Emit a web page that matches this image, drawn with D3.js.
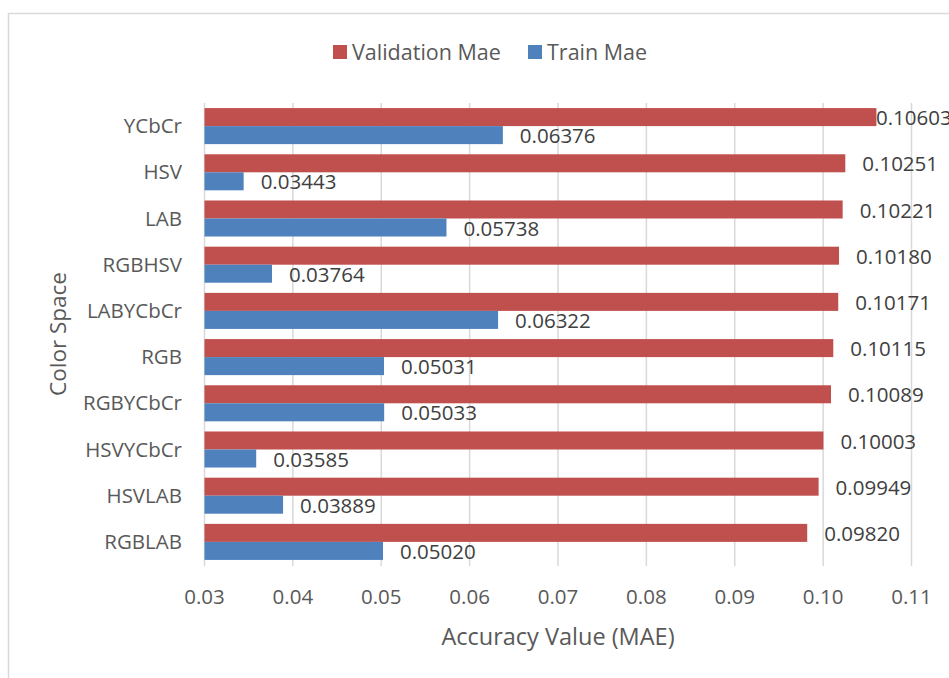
<!DOCTYPE html>
<html>
<head>
<meta charset="utf-8">
<script src="https://cdn.jsdelivr.net/npm/d3@7"></script>
<style>
  body { margin: 0; background: #fff; }
  text { font-family: "Open Sans", sans-serif; fill: #595959; }
</style>
</head>
<body>
<div id="chart"></div>
<script>
// datos
const categories = ["YCbCr", "HSV", "LAB", "RGBHSV", "LABYCbCr", "RGB", "RGBYCbCr", "HSVYCbCr", "HSVLAB", "RGBLAB"];
const validationMae = [0.10603, 0.10251, 0.10221, 0.10180, 0.10171, 0.10115, 0.10089, 0.10003, 0.09949, 0.09820];
const trainMae = [0.06376, 0.03443, 0.05738, 0.03764, 0.06322, 0.05031, 0.05033, 0.03585, 0.03889, 0.05020];
const xTicks = [0.03, 0.04, 0.05, 0.06, 0.07, 0.08, 0.09, 0.10, 0.11];
const seriesNames = ["Validation Mae", "Train Mae"];
const colors = ["#C0504D", "#4F81BD"];

const width = 949;
const height = 678;
const margin = { top: 103, bottom: 113, left: 204.5, right: 38 };
const chartRight = 953;

const svg = d3
  .select("div#chart")
  .append("svg")
  .attr("width", width)
  .attr("height", height);

// marco
svg
  .append("rect")
  .attr("x", 8.5)
  .attr("y", 13.5)
  .attr("width", 1000)
  .attr("height", 1000)
  .attr("fill", "none")
  .attr("stroke", "#D9D9D9")
  .attr("stroke-width", 1.5);

const x = d3.scaleLinear().domain([0.03, 0.11]).range([margin.left, width - margin.right + 0.5]);
const y = d3
  .scaleBand()
  .domain(categories)
  .range([margin.top, height - margin.bottom])
  .paddingInner(0.22)
  .paddingOuter(0.11);
const ySub = d3.scaleBand().domain([0, 1]).range([0, y.bandwidth()]);

// grid
svg
  .append("g")
  .selectAll("line")
  .data(xTicks)
  .join("line")
  .attr("x1", (d) => x(d))
  .attr("x2", (d) => x(d))
  .attr("y1", margin.top)
  .attr("y2", height - margin.bottom + 1)
  .attr("stroke", "#D9D9D9")
  .attr("stroke-width", 1.5);

// tick labels
svg
  .append("g")
  .selectAll("text")
  .data(xTicks)
  .join("text")
  .attr("x", (d) => x(d))
  .attr("y", 597)
  .attr("dy", "0.35em")
  .attr("text-anchor", "middle")
  .style("font-size", "20.5px")
  .text((d) => d3.format(".2f")(d));

// category labels
svg
  .append("g")
  .selectAll("text")
  .data(categories)
  .join("text")
  .attr("x", 182)
  .attr("y", (d) => y(d) + y.bandwidth() / 2)
  .attr("dy", "0.35em")
  .attr("text-anchor", "end")
  .style("font-size", "20.5px")
  .text((d) => d);

// bars
const series = [validationMae, trainMae];
series.forEach((vals, s) => {
  const g = svg.append("g");
  g.selectAll("rect")
    .data(vals)
    .join("rect")
    .attr("x", x(0.03))
    .attr("y", (d, i) => y(categories[i]) + ySub(s))
    .attr("width", (d) => x(d) - x(0.03))
    .attr("height", ySub.bandwidth())
    .attr("fill", colors[s]);

  g.selectAll("text")
    .data(vals)
    .join("text")
    .attr("x", (d) => Math.min(x(d) + 17, chartRight - 77))
    .attr("y", (d, i) => y(categories[i]) + ySub(s) + ySub.bandwidth() / 2 + 1)
    .attr("dy", "0.35em")
    .style("font-size", "20.5px")
    .style("fill", "#404040")
    .text((d) => d3.format(".5f")(d));
});

// axis titles
svg
  .append("text")
  .attr("x", 558)
  .attr("y", 637)
  .attr("dy", "0.35em")
  .attr("text-anchor", "middle")
  .style("font-size", "23.5px")
  .text("Accuracy Value (MAE)");

svg
  .append("text")
  .attr("transform", "translate(58,334) rotate(-90)")
  .attr("dy", "0.35em")
  .attr("text-anchor", "middle")
  .style("font-size", "22.5px")
  .text("Color Space");

// legend
const legend = svg.append("g").attr("transform", "translate(333,44)");
const legendX = [0, 195];
seriesNames.forEach((name, i) => {
  legend
    .append("rect")
    .attr("x", legendX[i])
    .attr("y", 1)
    .attr("width", 14)
    .attr("height", 14)
    .attr("fill", colors[i]);
  legend
    .append("text")
    .attr("x", legendX[i] + 19)
    .attr("y", 8)
    .attr("dy", "0.35em")
    .style("font-size", "21.5px")
    .text(name);
});
</script>
</body>
</html>
